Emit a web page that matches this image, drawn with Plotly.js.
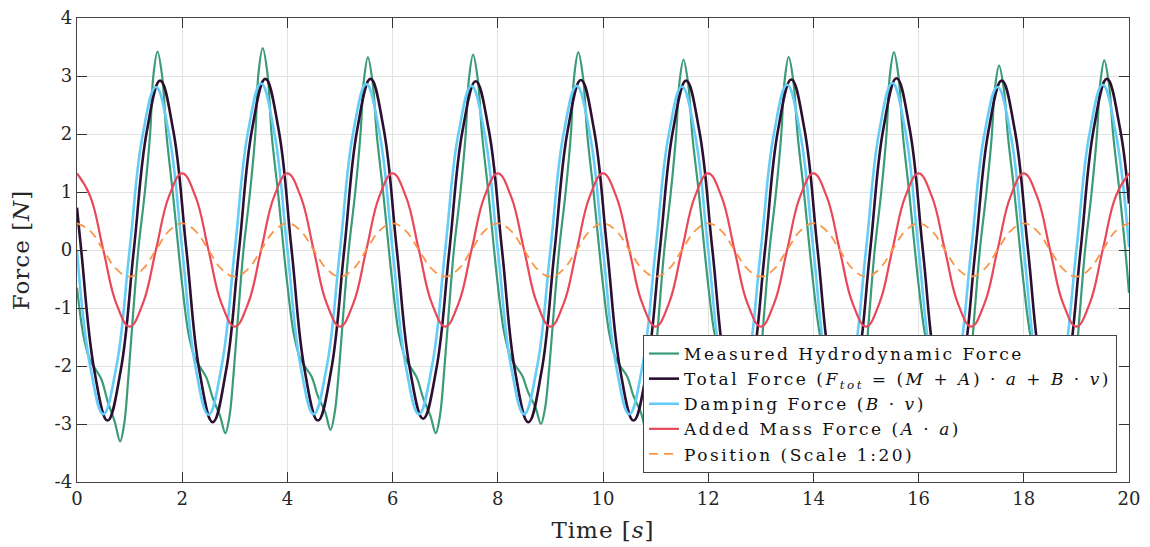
<!DOCTYPE html>
<html><head><meta charset="utf-8">
<script src="https://cdn.plot.ly/plotly-3.0.1.min.js"></script>
<style>html,body{margin:0;padding:0;background:#fff}#chart{width:1150px;height:547px}
.legendtext{letter-spacing:2.5px}
.xtitle,.ytitle{letter-spacing:1px}
</style>
</head><body><div id="chart"></div>
<script>
// Sampling grid (s) for the smooth model curves
const timeGrid = [0,0.25,0.5,0.75,1,1.25,1.5,1.75,2,2.25,2.5,2.75,3,3.25,3.5,3.75,4,4.25,4.5,4.75,5,5.25,5.5,5.75,6,6.25,6.5,6.75,7,7.25,7.5,7.75,8,8.25,8.5,8.75,9,9.25,9.5,9.75,10,10.25,10.5,10.75,11,11.25,11.5,11.75,12,12.25,12.5,12.75,13,13.25,13.5,13.75,14,14.25,14.5,14.75,15,15.25,15.5,15.75,16,16.25,16.5,16.75,17,17.25,17.5,17.75,18,18.25,18.5,18.75,19,19.25,19.5,19.75,20];

const positionScaled = [0.46,0.33,0,-0.33,-0.46,-0.33,0,0.33, 0.46,0.33,0,-0.33,-0.46,-0.33,0,0.33, 0.46,0.33,0,-0.33,-0.46,-0.33,0,0.33, 0.46,0.33,0,-0.33,-0.46,-0.33,0,0.33, 0.46,0.33,0,-0.33,-0.46,-0.33,0,0.33, 0.46,0.33,0,-0.33,-0.46,-0.33,0,0.33, 0.46,0.33,0,-0.33,-0.46,-0.33,0,0.33, 0.46,0.33,0,-0.33,-0.46,-0.33,0,0.33, 0.46,0.33,0,-0.33,-0.46,-0.33,0,0.33, 0.46,0.33,0,-0.33,-0.46,-0.33,0,0.33, 0.46];

const addedMassForce = [1.32,0.93,0,-0.93,-1.32,-0.93,0,0.93, 1.32,0.93,0,-0.93,-1.32,-0.93,0,0.93, 1.32,0.93,0,-0.93,-1.32,-0.93,0,0.93, 1.32,0.93,0,-0.93,-1.32,-0.93,0,0.93, 1.32,0.93,0,-0.93,-1.32,-0.93,0,0.93, 1.32,0.93,0,-0.93,-1.32,-0.93,0,0.93, 1.32,0.93,0,-0.93,-1.32,-0.93,0,0.93, 1.32,0.93,0,-0.93,-1.32,-0.93,0,0.93, 1.32,0.93,0,-0.93,-1.32,-0.93,0,0.93, 1.32,0.93,0,-0.93,-1.32,-0.93,0,0.93, 1.32];

const dampingForce = [0,-2.0,-2.83,-2.0,0,1.99,2.81,1.99, 0,-2.0,-2.84,-2.0,0,2.03,2.87,2.03, 0,-2.0,-2.83,-2.0,0,2.02,2.86,2.02, 0,-2.0,-2.83,-2.0,0,2.0,2.83,2.0, 0,-2.0,-2.83,-2.0,0,2.0,2.83,2.0, 0,-2.0,-2.83,-2.0,0,1.99,2.82,1.99, 0,-2.0,-2.83,-2.0,0,2.01,2.85,2.01, 0,-2.0,-2.83,-2.0,0,2.04,2.88,2.04, 0,-2.0,-2.83,-2.0,0,1.99,2.81,1.99, 0,-2.0,-2.83,-2.0,0,2.01,2.85,2.01, 0.05];

// Total force: zero crossings, quarter points and extrema
const totalTime = [0,
 0.08,0.33,0.58,0.83,1.08,1.33,1.58,1.83,
 2.08,2.33,2.58,2.83,3.08,3.33,3.58,3.83,
 4.08,4.33,4.58,4.83,5.08,5.33,5.58,5.83,
 6.08,6.33,6.58,6.83,7.08,7.33,7.58,7.83,
 8.08,8.33,8.58,8.83,9.08,9.33,9.58,9.83,
 10.08,10.33,10.58,10.83,11.08,11.33,11.58,11.83,
 12.08,12.33,12.58,12.83,13.08,13.33,13.58,13.83,
 14.08,14.33,14.58,14.83,15.08,15.33,15.58,15.83,
 16.08,16.33,16.58,16.83,17.08,17.33,17.58,17.83,
 18.08,18.33,18.58,18.83,19.08,19.33,19.58,19.83,
 20];
const totalForce = [0.73,
 0,-2.08,-2.94,-2.08,0,2.06,2.92,2.06,
 0,-2.1,-2.97,-2.1,0,2.09,2.95,2.09,
 0,-2.08,-2.94,-2.08,0,2.09,2.95,2.09,
 0,-2.06,-2.91,-2.06,0,2.06,2.91,2.06,
 0,-2.1,-2.97,-2.1,0,2.07,2.93,2.07,
 0,-2.08,-2.94,-2.08,0,2.06,2.92,2.06,
 0,-2.08,-2.94,-2.08,0,2.08,2.94,2.08,
 0,-2.08,-2.94,-2.08,0,2.09,2.96,2.09,
 0,-2.08,-2.94,-2.08,0,2.06,2.92,2.06,
 0,-2.08,-2.94,-2.08,0,2.09,2.95,2.09,
 0.8];

// Measured force: key points (time s, force N)
const measuredTime = [
 0,0.12,0.24,0.34,0.46,0.58,0.72,0.82,0.9,0.975,1.07,1.165,1.29,1.39,1.45,1.53,1.62,1.7,1.82,1.93,
 2,2.12,2.24,2.34,2.46,2.58,2.72,2.82,2.9,2.975,3.07,3.165,3.29,3.39,3.45,3.53,3.62,3.7,3.82,3.93,
 4,4.12,4.24,4.34,4.46,4.58,4.72,4.82,4.9,4.975,5.07,5.165,5.29,5.39,5.45,5.53,5.62,5.7,5.82,5.93,
 6,6.12,6.24,6.34,6.46,6.58,6.72,6.82,6.9,6.975,7.07,7.165,7.29,7.39,7.45,7.53,7.62,7.7,7.82,7.93,
 8,8.12,8.24,8.34,8.46,8.58,8.72,8.82,8.9,8.975,9.07,9.165,9.29,9.39,9.45,9.53,9.62,9.7,9.82,9.93,
 10,10.12,10.24,10.34,10.46,10.58,10.72,10.82,10.9,10.975,11.07,11.165,11.29,11.39,11.45,11.53,11.62,11.7,11.82,11.93,
 12,12.12,12.24,12.34,12.46,12.58,12.72,12.82,12.9,12.975,13.07,13.165,13.29,13.39,13.45,13.53,13.62,13.7,13.82,13.93,
 14,14.12,14.24,14.34,14.46,14.58,14.72,14.82,14.9,14.975,15.07,15.165,15.29,15.39,15.45,15.53,15.62,15.7,15.82,15.93,
 16,16.12,16.24,16.34,16.46,16.58,16.72,16.82,16.9,16.975,17.07,17.165,17.29,17.39,17.45,17.53,17.62,17.7,17.82,17.93,
 18,18.12,18.24,18.34,18.46,18.58,18.72,18.82,18.9,18.975,19.07,19.165,19.29,19.39,19.45,19.53,19.62,19.7,19.82,19.93,
 20];
const measuredForce = [
 -0.65,-1.46,-1.88,-2.04,-2.22,-2.6,-2.97,-3.30,-2.98,-2.21,-1.06,0,1.0,2.0,2.99,3.42,2.99,2.0,1.0,0,
 -0.6,-1.44,-1.86,-2.02,-2.2,-2.55,-2.86,-3.16,-2.86,-2.15,-1.04,0,1.0,2.0,3.05,3.48,3.05,2.0,1.0,0,
 -0.6,-1.44,-1.86,-2.02,-2.18,-2.52,-2.8,-3.10,-2.8,-2.12,-1.02,0,1.0,2.0,2.89,3.32,2.89,1.98,1.0,0,
 -0.6,-1.45,-1.86,-2.02,-2.2,-2.55,-2.86,-3.16,-2.86,-2.15,-1.04,0,1.0,2.0,2.94,3.37,2.94,2.0,1.0,0,
 -0.6,-1.42,-1.84,-2.0,-2.16,-2.46,-2.72,-3.00,-2.72,-2.06,-1.0,0,1.0,2.0,2.98,3.41,2.98,2.0,1.0,0,
 -0.6,-1.44,-1.86,-2.02,-2.18,-2.52,-2.8,-3.10,-2.8,-2.12,-1.02,0,1.0,1.98,2.86,3.28,2.86,1.96,1.0,0,
 -0.6,-1.44,-1.86,-2.02,-2.18,-2.52,-2.8,-3.10,-2.8,-2.12,-1.02,0,1.0,2.0,2.9,3.33,2.9,1.98,1.0,0,
 -0.6,-1.44,-1.86,-2.02,-2.18,-2.52,-2.8,-3.10,-2.8,-2.12,-1.02,0,1.0,2.0,2.98,3.41,2.98,2.0,1.0,0,
 -0.6,-1.44,-1.86,-2.02,-2.18,-2.52,-2.8,-3.10,-2.8,-2.12,-1.02,0,1.0,1.95,2.78,3.18,2.78,1.95,1.0,0,
 -0.6,-1.44,-1.86,-2.02,-2.18,-2.52,-2.8,-3.10,-2.8,-2.12,-1.02,0,1.0,1.98,2.85,3.27,2.85,1.98,1.0,0,
 -0.74];

const seriesNames = [
  'Measured Hydrodynamic Force',
  'Total Force (<i>F<sub>tot</sub></i> = (<i>M</i> + <i>A</i>) · <i>a</i> + <i>B</i> · <i>v</i>)',
  'Damping Force (<i>B</i> · <i>v</i>)',
  'Added Mass Force (<i>A</i> · <i>a</i>)',
  'Position (Scale 1:20)'
];
const xTickVals = [0,2,4,6,8,10,12,14,16,18,20];
const xTickText = ['0','2','4','6','8','10','12','14','16','18','20'];
const yTickVals = [-4,-3,-2,-1,0,1,2,3,4];
const yTickText = ['-4','-3','-2','-1','0','1','2','3','4'];

const FONT = 'DejaVu Serif, Liberation Serif, serif';
const sp = {shape:'spline', smoothing:1.2, width:2.2};
const traces = [
  {x: measuredTime, y: measuredForce, name: seriesNames[0], mode:'lines', line:Object.assign({}, sp, {color:'#3b9b76', smoothing:1})},
  {x: totalTime, y: totalForce, name: seriesNames[1], mode:'lines', line:Object.assign({}, sp, {color:'#2b0f30', width:2.6})},
  {x: timeGrid, y: dampingForce, name: seriesNames[2], mode:'lines', line:Object.assign({}, sp, {color:'#66ccf8', width:2.6})},
  {x: timeGrid, y: addedMassForce, name: seriesNames[3], mode:'lines', line:Object.assign({}, sp, {color:'#e8485a'})},
  {x: timeGrid, y: positionScaled, name: seriesNames[4], mode:'lines', line:Object.assign({}, sp, {color:'#fa9646', dash:'9px,6px', width:1.8})}
];

const axisCommon = {
  showline:true, mirror:'ticks', linecolor:'#444', linewidth:1.3,
  ticks:'inside', ticklen:10, tickwidth:1, tickcolor:'#333',
  showgrid:true, gridcolor:'#e3e3e3', gridwidth:1, zeroline:false,
  tickfont:{family:FONT, size:18, color:'#262626'}, tickmode:'array'
};
const layout = {
  width:1150, height:547,
  margin:{l:77, r:21, t:18, b:65},
  paper_bgcolor:'#fff', plot_bgcolor:'#fff',
  showlegend:true,
  xaxis: Object.assign({}, axisCommon, {range:[0,20], tickvals:xTickVals, ticktext:xTickText,
    title:{text:'Time [<i>s</i>]', font:{family:FONT, size:23, color:'#262626'}, standoff:14}}),
  yaxis: Object.assign({}, axisCommon, {range:[-4,4], tickvals:yTickVals, ticktext:yTickText,
    title:{text:'Force [<i>N</i>]', font:{family:FONT, size:23, color:'#262626'}, standoff:18}}),
  legend:{x:0.9886, xanchor:'right', y:0.0194, yanchor:'bottom', bgcolor:'#fff',
    bordercolor:'#444', borderwidth:1, font:{family:FONT, size:17, color:'#111'},
    tracegroupgap:0, itemwidth:30}
};
Plotly.newPlot('chart', traces, layout, {displayModeBar:false, staticPlot:true});
</script>
</body></html>
